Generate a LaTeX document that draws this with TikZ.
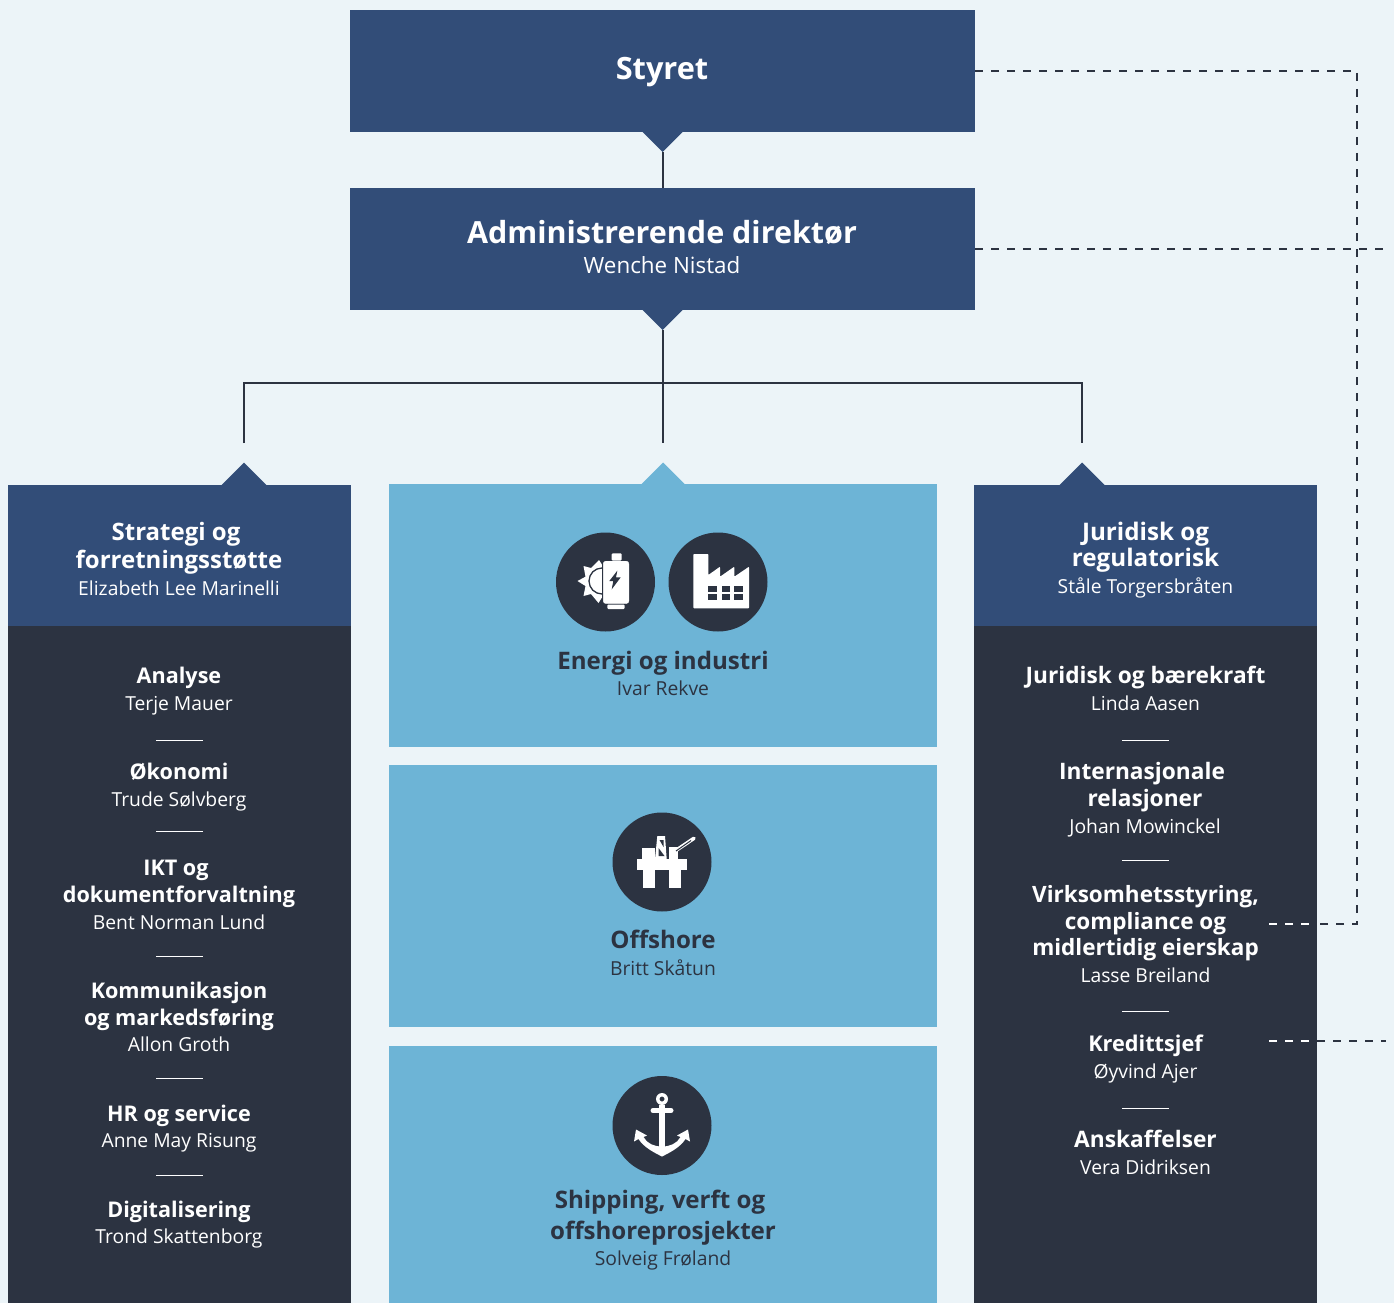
\documentclass[tikz,border=0pt]{standalone}
\usepackage{fontspec}
\setmainfont{Open Sans}
\usetikzlibrary{positioning}
\definecolor{paper}{HTML}{ECF4F8}
\definecolor{navy}{HTML}{324D78}
\definecolor{slate}{HTML}{2C3341}
\definecolor{sky}{HTML}{6DB4D6}
\newcommand{\person}[1]{{\mdseries\fontsize{19.3}{27}\selectfont #1\strut}}
\begin{document}
\begin{tikzpicture}[x=1pt, y=-1pt,
      box/.style={inner sep=0, outer sep=0, minimum width=#1},
      top/.style={box=625, minimum height=122, fill=navy, text=white, align=center},
      head/.style={box=343, minimum height=141, fill=navy},
      body/.style={box=343, minimum height=677, fill=slate},
      area/.style={box=548, fill=sky},
      unit/.style={anchor=south, align=center, text=white, font=\bfseries\fontsize{22.7}{27}\selectfont},
      leftunit/.style={unit, font=\bfseries\fontsize{21.6}{27}\selectfont},
      headunit/.style={unit, font=\bfseries\fontsize{24}{28}\selectfont},
      areaunit/.style={unit, text=slate, font=\bfseries\fontsize{24.1}{28}\selectfont},
      badge/.style={circle, fill=slate, minimum size=99, inner sep=0},
      link/.style={draw=slate, line width=2},
      dashlink/.style={draw=slate, line width=1.6, dash pattern=on 8pt off 8pt},
      sepline/.style={draw=white, line width=1}
    ]
    \useasboundingbox (0,0) rectangle (1394,1303);
    \fill[paper] (0,0) rectangle (1394,1303);

    \node[top] (styret) at (662.5,71) {};
    \node[text=white, font=\bfseries\fontsize{30.7}{34}\selectfont] (styrettext) at (662,72) {Styret};
    \node[top] (adm) at (662.5,249) {};
    \node[text=white, align=center, font=\bfseries\fontsize{30.5}{33}\selectfont] (admtext) at (662,247)
        {Administrerende direktør\\[-3pt]{\mdseries\fontsize{22.4}{30}\selectfont Wenche Nistad}};

    \node[head] (lhead) at (179.5,555.5) {};
    \node[body] (lbody) at (179.5,964.5) {};
    \node[head] (rhead) at (1145.5,555.5) {};
    \node[body] (rbody) at (1145.5,964.5) {};
    \node[area, minimum height=263] (energi) at (663,615.5) {};
    \node[area, minimum height=262] (offshore) at (663,896) {};
    \node[area, minimum height=257] (shipping) at (663,1174.5) {};

    \fill[navy] (styret.south) ++(-20,0) -- ++(20,20) -- ++(20,-20) -- cycle;
    \fill[navy] (adm.south) ++(-20,0) -- ++(20,20) -- ++(20,-20) -- cycle;
    \fill[navy] (244,485.5) ++(-23,0) -- ++(23,-23) -- ++(23,23) -- cycle;
    \fill[navy] (1082,485.5) ++(-23,0) -- ++(23,-23) -- ++(23,23) -- cycle;
    \fill[sky] (energi.north) ++(-22,0.5) -- ++(22,-22) -- ++(22,22) -- cycle;

    \coordinate (styrettip) at (663,152);
    \coordinate (admtip) at (663,330);
    \coordinate (ltop) at (244,443);
    \coordinate (mtop) at (663,443);
    \coordinate (rtop) at (1082,443);
    \coordinate (bar) at (663,382.5);
    \draw[link] (styrettip) -- (styrettip |- adm.north);
    \draw[link] (admtip) -- (mtop);
    \draw[link] (ltop) |- (bar) -| (rtop);

    \node[headunit] (strategi) at (179,607.5) {Strategi og\hspace*{6pt}\\forretningsstøtte\\[-1pt]\person{Elizabeth Lee Marinelli}};
    \node[headunit, font=\bfseries\fontsize{24.2}{26.5}\selectfont] (juridisk) at (1145.5,605) {Juridisk og\\regulatorisk\\\person{Ståle Torgersbråten}};

    \node[leftunit] (analyse) at (179,722) {Analyse\\\person{Terje Mauer}};
    \node[leftunit] (okonomi) at (179,818) {Økonomi\\\person{Trude Sølvberg}};
    \node[leftunit] (ikt) at (179,941) {IKT og\hspace*{6pt}\\dokumentforvaltning\\\person{Bent Norman Lund}};
    \node[leftunit] (kommunikasjon) at (179,1063.5) {Kommunikasjon\\og markedsføring\\[-1pt]\person{Allon Groth}};
    \node[leftunit] (hr) at (179,1159) {HR og service\\[-1pt]\person{Anne May Risung}};
    \node[leftunit] (digitalisering) at (179,1255) {Digitalisering\\[-1pt]\person{Trond Skattenborg}};

    \node[unit] (barekraft) at (1145.5,722) {Juridisk og bærekraft\\\person{Linda Aasen}};
    \node[unit] (internasjonale) at (1145,845) {Internasjonale\hspace*{6pt}\\relasjoner\\\person{Johan Mowinckel}};
    \node[unit, font=\bfseries\fontsize{22.5}{27}\selectfont] (virksomhet) at (1145.5,994) {Virksomhetsstyring,\\compliance og\\[-1pt]midlertidig eierskap\\\person{Lasse Breiland}};
    \node[unit, font=\bfseries\fontsize{21.7}{27}\selectfont] (kreditt) at (1145.5,1090) {Kredittsjef\\\person{Øyvind Ajer}};
    \node[unit] (anskaffelser) at (1145.5,1186) {Anskaffelser\\\person{Vera Didriksen}};

    \foreach \y in {740,831,956,1078,1175}
        \draw[sepline] (156,\y) -- (203,\y);
    \foreach \y in {740,860,1011,1108}
        \draw[sepline] (1122,\y) -- (1169,\y);

    \node[areaunit] (energitext) at (663,707) {Energi og industri\\[-2pt]\person{Ivar Rekve}};
    \node[areaunit] (offshoretext) at (663,987) {Offshore\\[-1pt]\person{Britt Skåtun}};
    \node[areaunit] (shippingtext) at (663,1277) {Shipping, verft og\hspace*{6pt}\\[3pt]offshoreprosjekter\\[-2pt]\person{Solveig Frøland}};

    \node[badge] (sol) at (605.5,582) {};
    \node[badge] (fabrikk) at (718,582) {};
    \node[badge] (rigg) at (662,862) {};
    \node[badge] (anker) at (662,1125.5) {};

    \begin{scope}[shift={(sol)}]
        \fill[white] (-28,-1) -- (-20,-5.3) -- (-22,-16) -- (-14.5,-14) -- (-6.5,-22) -- (-2,-15) -- (-2,13) -- (-7,21)
            -- (-14.5,12) -- (-22,14) -- (-20,4) -- cycle;
        \draw[slate, line width=1.3] (-3.5,-14) arc[start angle=270, end angle=90, radius=13];
        \draw[white, fill=white, rounded corners=2.5, preaction={draw=slate, line width=2.4}] (-2.2,-20.8) rectangle (23.3,21.5);
        \fill[white, rounded corners=1] (6.2,-21.5) -- (6.2,-28.7) -- (16.2,-28.7) -- (16.2,-21.5) -- cycle;
        \fill[white, rounded corners=1] (1.8,22.5) -- (1.8,27) -- (19.2,27) -- (19.2,22.5) -- cycle;
        \fill[slate] (11.8,-11.3) -- (3.8,-1) -- (7.8,-1) -- (6.2,7.3) -- (15.2,-4.7) -- (10.5,-4.7) -- cycle;
    \end{scope}

    \begin{scope}[shift={(fabrikk)}]
        \fill[white, rounded corners=0.8] (-24.7,-28) -- (-9.7,-28) -- (-9.7,-7) -- (2,-15.3) -- (2,-5.3) -- (16.3,-15.3)
            -- (16.3,-5.3) -- (31,-15.3) -- (31,26.3) -- (-24.7,26.3) -- cycle;
        \foreach \x in {-9.7,3.7,16.3}
            \foreach \y in {3.7,12}
                \fill[slate] (\x,\y) rectangle ++(8.4,5.8);
    \end{scope}

    \begin{scope}[shift={(rigg)}]
        \fill[white] (-25.3,-2.7) rectangle (25.3,8);
        \fill[white] (-18.7,8) rectangle (-7,25.7);
        \fill[white] (7,8) rectangle (19,25.7);
        \fill[white] (-20.3,-13.7) rectangle (-7,-2.7);
        \fill[white] (7,-15.3) rectangle (16.3,-2.7);
        \fill[white] (-4.7,-26) -- (3,-26) -- (4.7,-2.7) -- (-7,-2.7) -- cycle;
        \fill[slate] (-2.5,-22) -- (1.5,-22) -- (1.5,-15) -- cycle;
        \fill[slate] (-3.5,-14) -- (2.5,-6) -- (-3.5,-6) -- cycle;
        \draw[white, line width=3.6, line cap=round] (12,-10.3) -- (32,-23.7);
        \draw[slate, line width=1] (14,-11) -- (29,-21.5);
    \end{scope}

    \begin{scope}[shift={(anker)}]
        \fill[white, even odd rule] (0,-26.5) circle[radius=6] (0,-26.5) circle[radius=2.6];
        \draw[white, line width=5, line cap=round] (-9,-15) -- (9,-15);
        \fill[white] (-3,-21) rectangle (3,26);
        \fill[white] (-26,4) -- (-28,16) -- (-23.5,13.5) .. controls (-18,22) and (-8,27) .. (0,31)
            .. controls (8,27) and (18,22) .. (23.5,13.5) -- (28,16) -- (26,4) -- (15,10) -- (18.5,11.5)
            .. controls (15,18) and (8,21) .. (0,21) .. controls (-8,21) and (-15,18) .. (-18.5,11.5)
            -- (-15,10) -- cycle;
    \end{scope}

    \coordinate (admend) at (1386,249);
    \coordinate (virkstart) at (1269,924);
    \coordinate (corner) at (1357,924);
    \coordinate (kredittstart) at (1269,1041);
    \coordinate (kredittend) at (1386,1041);
    \draw[dashlink] (styret.east) -| (corner) -- (rbody.east |- corner);
    \draw[dashlink] (adm.east) -- (admend);
    \draw[dashlink, white] (virkstart) -- (rbody.east |- virkstart);
    \draw[dashlink, white] (kredittstart) -- (rbody.east |- kredittstart);
    \draw[dashlink] (rbody.east |- kredittend) -- (kredittend);
\end{tikzpicture}
\end{document}
